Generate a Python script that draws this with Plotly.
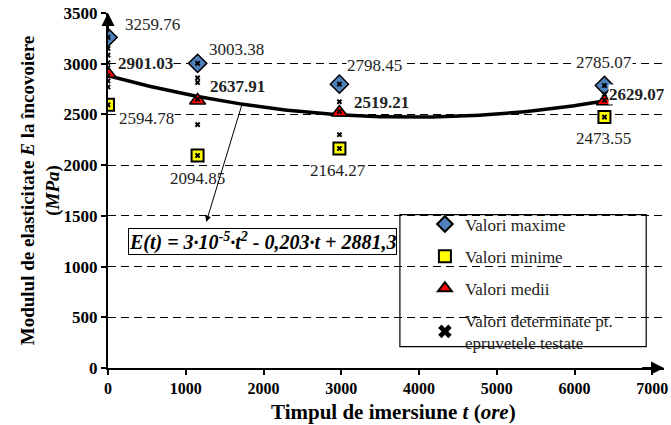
import numpy as np
import plotly.graph_objects as go

# ---------------- data ----------------
times = [0, 1152, 2976, 6384]
max_vals = [3259.76, 3003.38, 2798.45, 2785.07]
min_vals = [2594.78, 2094.85, 2164.27, 2473.55]
mean_vals = [2901.03, 2637.91, 2519.21, 2629.07]

# individual specimen values
spec_t = [0]*9 + [1152]*6 + [2976]*5 + [6384]*4
spec_E = [3259.76, 3150, 3085, 3010, 2960, 2880, 2830, 2770, 2594.78,
          3003.38, 2860, 2815, 2650, 2400, 2094.85,
          2798.45, 2625, 2530, 2300, 2164.27,
          2785.07, 2700, 2640, 2473.55]

legend_names = ["Valori maxime", "Valori minime", "Valori medii",
                "Valori determinate pt.<br>epruvetele testate"]
equation = "<b><i>E(t) = 3·10<sup>-5</sup>·t<sup>2</sup> - 0,203·t + 2881,3</i></b>"
x_title = "<b>Timpul de imersiune <i>t</i> (<i>ore</i>)</b>"
y_title = "<b>Modulul de elasticitate <i>E</i> la încovoiere<br>(<i>MPa</i>)</b>"

# trend line (2nd order polynomial regression of mean values)
coef = np.polyfit(times, mean_vals, 2)
t_fit = np.linspace(times[0], times[-1], 200)
E_fit = np.polyval(coef, t_fit)

SERIF = "Liberation Serif"

fig = go.Figure()

fig.add_trace(go.Scatter(x=t_fit, y=E_fit, mode="lines",
                         line=dict(color="black", width=3.5),
                         showlegend=False, hoverinfo="skip"))

fig.add_trace(go.Scatter(x=times, y=max_vals, mode="markers", name=legend_names[0],
                         legendgroup="a", legendrank=1,
                         marker=dict(symbol="diamond", size=14, color="#4f81bd",
                                     line=dict(color="black", width=1.5))))
fig.add_trace(go.Scatter(x=times, y=min_vals, mode="markers", name=legend_names[1],
                         legendgroup="b", legendrank=2,
                         marker=dict(symbol="square", size=12, color="#ffff00",
                                     line=dict(color="black", width=2))))
fig.add_trace(go.Scatter(x=times, y=mean_vals, mode="markers", name=legend_names[2],
                         legendgroup="c", legendrank=3,
                         marker=dict(symbol="triangle-up", size=14, color="#ff0000",
                                     line=dict(color="black", width=1.5))))
fig.add_trace(go.Scatter(x=spec_t, y=spec_E, mode="markers", name=legend_names[3],
                         legendgroup="d", legendrank=4,
                         marker=dict(symbol="x", size=5, color="black",
                                     line=dict(width=0))))

annotations = []

def lab(x, y, text, dx, dy, bold=False):
    annotations.append(dict(x=x, y=y, xref="x", yref="y", showarrow=False,
                            text=("<b>%s</b>" % text) if bold else text,
                            xshift=dx, yshift=dy, bgcolor="white", borderpad=0,
                            font=dict(family=SERIF, size=17, color="#222")))

max_off = [(44, 13), (39, 14), (35, 19), (0, 23)]
mean_off = [(37, 10), (40, 14), (42, 10), (33, 7)]
min_off = [(38, -14), (0, -23), (-1, -22), (-1, -21)]
for i, t in enumerate(times):
    lab(t, max_vals[i], "%.2f" % max_vals[i], *max_off[i])
    lab(t, mean_vals[i], "%.2f" % mean_vals[i], *mean_off[i], bold=True)
    lab(t, min_vals[i], "%.2f" % min_vals[i], *min_off[i])

# equation box
annotations.append(dict(x=1992, y=1250, xref="x", yref="y", showarrow=False,
                        text=equation, bordercolor="black", borderwidth=1,
                        borderpad=0, bgcolor="white",
                        font=dict(family=SERIF, size=20, color="black")))
# arrow from curve to equation box
t_tail = 1724
annotations.append(dict(x=1264, y=1440, xref="x", yref="y",
                        ax=t_tail, ay=float(np.polyval(coef, t_tail)),
                        axref="x", ayref="y", showarrow=True, text="",
                        arrowhead=2, arrowsize=1.2, arrowwidth=1, arrowcolor="black"))
# axis arrows
annotations.append(dict(x=0, y=3500, xref="x", yref="y", ax=0, ay=3300,
                        axref="x", ayref="y", showarrow=True, text="",
                        arrowhead=2, arrowsize=1.3, arrowwidth=2, arrowcolor="black"))
annotations.append(dict(x=7150, y=0, xref="x", yref="y", ax=6850, ay=0,
                        axref="x", ayref="y", showarrow=True, text="",
                        arrowhead=2, arrowsize=1.3, arrowwidth=2, arrowcolor="black"))
# y title
annotations.append(dict(x=-0.121, y=0.5, xref="paper", yref="paper", showarrow=False,
                        xanchor="center", yanchor="middle",
                        text=y_title, textangle=-90,
                        font=dict(family=SERIF, size=19, color="black")))
# x title
annotations.append(dict(x=0.514, y=-0.124, xref="paper", yref="paper", showarrow=False,
                        xanchor="center", yanchor="middle", text=x_title,
                        font=dict(family=SERIF, size=21, color="black")))

fig.update_layout(
    width=671, height=425,
    margin=dict(l=108, r=3, t=13, b=57),
    paper_bgcolor="white", plot_bgcolor="white",
    font=dict(family=SERIF, color="black"),
    annotations=annotations,
    shapes=[dict(type="rect", xref="paper", yref="paper",
                 x0=0.525, x1=0.968, y0=0.06, y1=0.432,
                 line=dict(color="black", width=1.2), fillcolor="white", layer="below")],
    legend=dict(x=0.57, y=0.455, xanchor="left", yanchor="top",
                bgcolor="rgba(0,0,0,0)", borderwidth=0,
                font=dict(family=SERIF, size=17, color="#222"),
                tracegroupgap=7, itemsizing="constant"),
    xaxis=dict(range=[0, 7150], tickvals=list(range(0, 7001, 1000)),
               showgrid=False, zeroline=False,
               showline=True, linecolor="black", linewidth=2,
               ticks="outside", ticklen=5, tickcolor="black", tickwidth=1.5,
               ticklabeloverflow="allow",
               tickfont=dict(family=SERIF, size=16, color="black", weight="bold")),
    yaxis=dict(range=[0, 3500], tickvals=list(range(0, 3501, 500)),
               showgrid=True, gridcolor="black", griddash="8px,5px", gridwidth=1.3,
               zeroline=False,
               showline=True, linecolor="black", linewidth=2,
               ticks="outside", ticklen=5, tickcolor="black", tickwidth=1.5,
               tickfont=dict(family=SERIF, size=17, color="black", weight="bold")),
)

fig.write_html("out.html")
